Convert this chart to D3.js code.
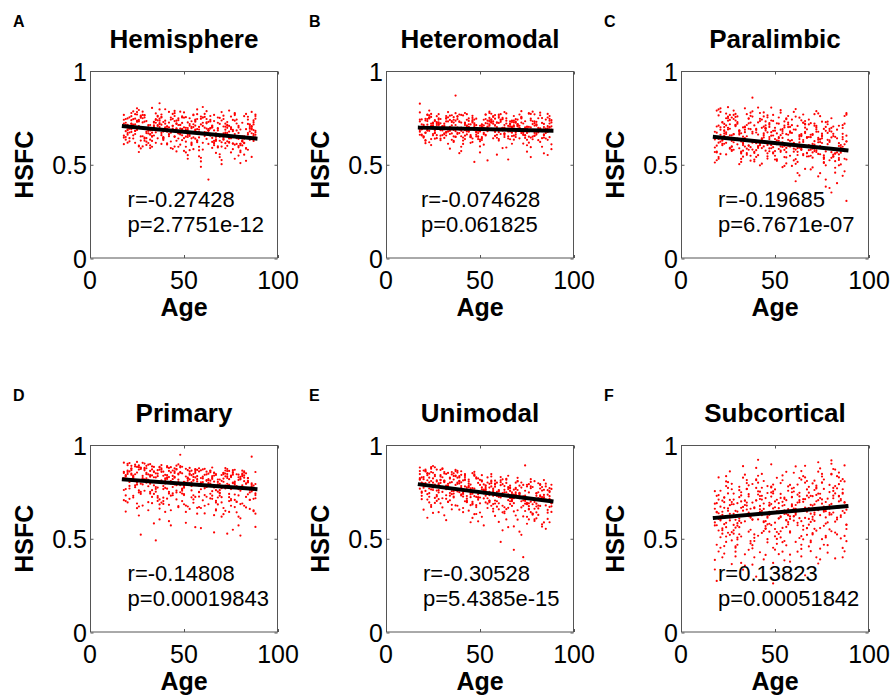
<!DOCTYPE html>
<html><head><meta charset="utf-8">
<script src="https://cdnjs.cloudflare.com/ajax/libs/d3/7.8.5/d3.min.js"></script>
<style>body{margin:0;background:#fff}svg text{font-family:Arial,"Liberation Sans",Helvetica,sans-serif;fill:#000}</style>
</head><body><svg id="chart" width="893" height="699"></svg>
<script>
// ---------- data ----------
const panelLetters = ["A","B","C","D","E","F"];
const panelTitles = ["Hemisphere","Heteromodal","Paralimbic","Primary","Unimodal","Subcortical"];
const rLabels = ["r=-0.27428","r=-0.074628","r=-0.19685","r=-0.14808","r=-0.30528","r=0.13823"];
const pLabels = ["p=2.7751e-12","p=0.061825","p=6.7671e-07","p=0.00019843","p=5.4385e-15","p=0.00051842"];
const xTickValues = [0,50,100];
const xTickLabels = ["0","50","100"];
const yTickValues = [0,0.5,1];
const yTickLabels = ["0","0.5","1"];
const xAxisLabel = "Age";
const yAxisLabel = "HSFC";
// fitted regression line: HSFC at the youngest and oldest age
const fitAges = [18,88];
const fitStart = [0.706,0.698,0.648,0.816,0.790,0.611];
const fitEnd   = [0.640,0.682,0.577,0.765,0.700,0.674];
// annotation anchor (age units)
const annotAge = [20,18.6,19.7,20,19.7,19.7];

// subject ages (shared by all panels)
const ages = [
18,21,25,19,23,27,20,24,22,26,18,22,25,20,27,23,19,24,21,26,20,25,18,23,27,21,24,19,26,22,25,20,23,18,27,24,21,26,19,22,24,18,26,21,23,20,27,25,19,22,26,18,24,21,27,23,20,25,22,19,23,19,26,21,25,18,27,22,24,20,
31,36,29,33,28,35,37,30,34,32,29,36,31,28,33,37,35,30,32,34,36,28,31,35,29,33,37,30,34,32,28,33,36,31,29,35,30,37,32,34,35,29,32,36,28,31,34,30,37,33,30,35,28,32,36,29,34,31,37,33,34,29,37,31,28,35,32,36,30,33,
44,39,46,41,38,43,47,40,45,42,38,45,40,47,42,39,44,41,46,43,41,47,39,44,38,42,46,40,43,45,39,42,46,38,44,41,47,43,40,45,46,40,43,38,47,41,44,39,42,45,38,44,41,46,39,43,47,40,45,42,41,46,38,43,47,40,44,39,45,42,
52,49,56,48,54,51,57,50,53,55,49,53,57,51,48,55,52,56,50,54,55,48,51,57,53,49,54,50,56,52,50,56,49,53,48,54,57,51,55,52,48,52,55,50,57,53,49,56,51,54,53,50,57,48,55,51,54,49,56,52,55,50,57,48,53,51,56,49,54,52,
63,58,66,60,64,59,67,61,65,62,58,62,66,60,67,63,59,64,61,65,60,65,58,63,67,61,64,59,66,62,59,64,67,60,63,58,65,61,66,62,64,58,66,61,63,60,67,65,59,62,66,58,64,61,67,63,60,65,62,59,60,65,58,62,67,59,64,61,66,63,
71,76,69,73,68,75,77,70,74,72,69,76,71,68,73,77,75,70,72,74,76,68,71,75,69,73,77,70,74,72,68,73,76,71,69,75,70,77,72,74,75,69,72,76,68,71,74,70,77,73,70,75,68,72,76,69,74,71,77,73,73,68,76,70,74,69,77,72,75,71,
84,79,86,81,88,83,78,87,80,85,82,88,80,85,79,83,87,81,86,78,84,81,87,79,84,88,82,86,80,83,85,78,82,87,80,88,84,79,86,81,83,87,80,85,78,82,88,84,79,86,81,85,83,88,80,86,79,84,82,87,81,87,79,85,88,82,78,84,80,86
];

// HSFC values, in thousandths
const hemisphereX1000 = [
720,672,768,634,711,751,689,617,759,706,655,738,781,684,587,714,648,746,694,792,669,729,610,701,762,642,715,744,598,690,735,660,785,708,629,681,753,568,712,675,770,645,731,693,743,618,700,801,679,720,602,740,664,698,757,640,713,686,776,724,657,705,739,625,694,766,651,718,680,747,
667,712,765,650,695,739,828,623,725,683,752,641,700,783,596,716,673,733,634,692,761,652,711,617,730,685,795,606,702,664,726,627,757,688,645,774,677,722,589,698,743,639,712,684,766,616,729,669,701,803,642,686,748,603,707,763,656,693,735,671,710,628,746,681,598,724,660,737,692,653,
708,647,735,686,611,752,667,693,787,652,714,597,682,738,699,632,771,676,721,589,690,747,645,707,670,782,571,699,678,760,638,725,691,658,745,614,712,680,796,651,694,735,624,768,669,705,585,728,684,649,756,693,608,718,677,741,640,697,775,660,703,628,752,671,596,719,686,642,733,664,
686,631,735,607,702,650,770,673,578,716,691,748,627,697,665,764,551,709,642,732,676,783,596,690,654,723,618,751,683,532,699,639,758,664,712,611,795,686,583,726,693,648,767,676,620,708,657,741,566,695,672,779,630,713,646,754,605,689,730,659,701,574,744,662,717,623,687,752,641,696,
421,688,628,724,660,757,636,698,590,744,675,786,612,707,651,690,518,731,665,622,752,643,702,681,563,771,655,715,604,693,670,739,627,808,684,577,706,653,766,638,695,545,733,674,611,752,650,699,489,721,683,596,760,661,632,729,617,700,672,745,581,709,646,726,668,537,694,755,620,683,
668,612,718,625,692,641,765,597,707,665,556,739,634,695,601,776,652,503,719,677,614,752,637,698,541,728,664,620,789,687,592,708,647,762,628,690,525,735,672,618,757,649,703,583,683,744,640,781,607,697,660,566,724,615,679,750,644,704,532,670,713,598,686,736,621,657,771,588,699,644,
661,600,706,624,681,589,741,664,567,716,639,768,604,692,670,521,727,651,703,611,756,630,685,549,718,660,617,782,688,586,701,642,759,627,509,673,741,638,694,603,771,655,575,712,683,615,746,648,699,542,724,633,690,760,612,668,707,580,652,715,625,737,593,678,645,554,720,669,612,688
];
const heteromodalX1000 = [
826,672,725,656,753,694,713,637,744,683,731,766,664,706,642,747,690,719,615,738,699,657,779,681,722,628,755,702,668,733,710,649,763,685,727,605,745,695,661,714,771,676,733,631,750,703,658,720,689,768,639,741,697,670,712,789,652,707,686,742,620,716,673,736,694,660,759,682,708,645,
710,651,744,687,726,633,869,699,664,760,684,725,643,741,693,712,764,658,731,681,627,748,702,667,721,781,648,694,739,675,715,612,754,690,655,733,706,775,671,694,728,640,746,686,719,663,762,697,650,731,683,710,770,656,740,690,586,720,679,753,702,631,735,668,712,689,749,622,705,677,
679,728,640,763,698,662,741,573,715,684,756,648,725,690,776,669,702,611,738,687,645,721,768,676,697,655,750,596,709,689,732,637,761,670,716,694,515,740,681,650,726,698,770,664,713,629,747,688,725,647,759,700,673,731,562,707,685,766,658,719,694,621,743,678,705,652,734,690,617,712,
697,649,739,676,720,632,755,692,660,731,683,768,641,713,693,737,607,724,678,703,776,651,715,688,744,669,523,708,692,740,634,728,682,767,661,699,719,642,750,686,711,670,783,625,731,693,652,742,703,679,722,566,759,674,708,648,735,690,772,663,715,598,684,746,656,702,728,637,691,710,
666,712,636,751,689,726,653,740,679,697,765,589,719,674,735,648,701,687,770,640,723,678,746,659,704,692,774,554,720,683,644,735,699,760,667,708,528,729,678,695,748,654,713,685,781,629,728,693,660,750,703,682,592,739,671,712,768,651,696,724,637,707,675,743,612,689,720,664,732,698,
695,650,730,672,710,633,746,689,658,725,681,772,641,703,690,737,604,717,676,699,775,655,708,685,743,664,541,705,689,755,634,720,678,768,660,696,713,645,747,682,704,671,786,618,726,691,656,741,699,677,715,570,760,669,702,648,732,687,771,659,613,735,682,708,643,724,594,751,670,697,
662,709,633,748,684,723,650,735,677,693,764,583,712,669,731,642,698,682,771,636,718,673,745,654,701,688,778,552,716,679,640,732,694,760,661,705,561,722,675,690,749,647,709,681,783,622,726,689,656,752,697,678,596,738,668,706,769,645,692,720,631,702,670,741,609,685,717,658,729,694
];
const paralimbicX1000 = [
592,687,749,566,655,627,795,710,604,692,512,725,646,763,579,668,704,617,801,657,541,735,635,701,598,782,664,570,716,629,757,532,680,650,596,773,700,586,671,728,555,643,766,660,612,709,574,688,789,633,590,676,748,558,657,718,618,807,647,602,684,524,739,623,697,568,752,611,673,638,
682,580,771,613,662,562,725,639,703,531,755,604,669,789,575,690,628,719,515,700,601,766,661,586,711,543,778,635,674,566,744,617,692,503,713,652,758,594,668,801,553,706,624,748,580,683,642,727,522,699,609,770,664,570,721,632,687,588,761,650,597,736,548,679,620,712,560,745,638,605,
658,569,753,596,858,632,714,542,694,612,785,575,672,637,733,518,703,600,764,641,551,722,623,667,581,776,606,691,506,710,630,745,561,676,646,805,587,697,615,731,533,686,638,757,572,661,598,710,497,693,618,779,590,673,563,741,648,578,695,612,726,545,667,589,702,624,758,528,683,604,
647,566,743,588,668,617,701,528,778,600,681,569,725,630,655,494,752,590,697,643,541,736,609,660,576,766,595,682,507,719,621,663,560,791,604,690,633,529,731,584,674,615,709,548,760,598,656,567,721,487,687,637,601,805,579,667,620,734,539,642,699,573,715,610,658,521,747,594,680,628,
637,548,733,570,658,606,689,505,768,589,671,552,715,617,644,443,741,579,687,632,523,724,597,650,561,757,583,670,478,707,609,653,544,782,591,678,622,412,718,569,664,604,698,530,751,586,645,551,711,456,675,627,590,797,563,658,611,725,515,631,688,557,702,598,647,494,737,581,669,619,
626,537,722,558,648,594,681,486,759,577,660,540,708,605,634,421,730,566,676,621,510,715,585,641,548,774,571,659,455,698,597,643,531,770,580,666,611,383,707,556,652,593,688,514,741,573,635,538,702,438,664,616,578,786,550,647,600,719,497,620,676,545,691,586,636,475,727,568,657,607,
615,524,711,545,307,583,670,465,748,564,649,528,697,593,622,402,719,554,665,610,497,704,573,630,536,767,559,648,352,687,585,633,519,760,567,655,600,376,696,543,641,581,677,502,730,561,624,526,691,441,653,605,566,775,537,636,588,708,484,609,665,532,680,574,625,458,716,555,646,596
];
const primaryX1000 = [
851,782,883,731,829,522,694,812,866,758,906,842,663,820,877,720,836,895,803,747,856,910,706,817,872,768,886,831,624,848,799,892,729,823,879,785,859,672,840,889,775,818,869,713,833,900,794,853,645,811,882,760,844,904,739,826,863,789,875,701,837,765,891,812,688,857,750,873,808,846,
843,773,878,723,820,491,683,803,859,750,901,834,652,811,870,710,827,889,794,739,847,905,695,808,865,759,880,822,582,839,790,886,719,814,872,776,851,661,831,883,766,809,862,702,824,895,785,844,603,802,876,751,835,898,728,817,856,780,868,690,828,756,884,803,677,849,741,866,799,838,
835,765,870,714,811,882,674,795,851,741,893,826,643,802,862,701,818,881,786,730,839,897,686,799,857,750,872,813,571,830,781,878,710,805,864,767,843,652,822,875,757,800,854,693,815,887,776,836,594,793,868,742,827,890,719,808,848,771,860,681,819,747,876,795,668,841,732,858,790,829,
826,756,861,948,802,873,665,786,842,732,884,817,634,793,853,692,809,872,777,721,830,888,677,790,848,741,863,804,562,821,772,869,701,796,855,758,834,643,813,866,748,791,845,684,806,878,767,827,585,784,859,733,818,881,710,799,839,762,851,672,810,738,867,786,659,832,723,849,781,820,
818,748,853,705,794,865,657,778,834,724,876,809,626,785,845,684,801,864,769,713,822,880,669,782,840,733,855,796,534,813,764,861,693,788,847,750,826,635,805,858,740,783,837,676,798,870,759,819,557,776,851,725,810,873,702,791,831,754,843,664,802,730,859,778,651,824,715,841,773,812,
664,842,745,833,790,705,868,809,722,848,777,548,821,751,861,797,676,840,784,739,856,803,631,829,743,845,788,694,862,768,816,527,796,852,730,837,780,669,877,818,712,759,864,800,683,844,787,618,805,872,722,834,776,649,866,793,701,850,736,824,793,720,851,770,643,816,707,833,765,804,
801,731,938,688,563,849,641,761,817,707,860,792,609,768,828,667,784,847,752,696,805,863,652,765,823,716,838,779,517,796,747,844,676,771,830,733,809,618,788,841,723,766,820,659,781,853,742,802,571,759,834,708,793,856,685,774,814,737,826,647,785,713,842,761,634,807,698,824,756,795
];
const unimodalX1000 = [
818,755,852,711,801,869,772,680,839,789,880,738,822,655,806,847,751,882,797,718,829,760,861,694,811,780,874,729,834,612,799,864,768,823,702,856,790,881,745,812,670,845,777,862,724,818,757,888,800,709,841,767,808,859,733,826,781,638,850,797,743,827,691,869,772,815,726,848,763,794,
802,741,839,698,786,856,759,667,826,776,867,725,809,642,793,834,738,872,784,705,816,747,848,681,798,767,861,716,821,599,786,851,755,810,689,843,777,868,732,799,657,832,764,849,711,805,744,875,787,696,828,754,795,846,720,813,768,625,837,784,730,814,678,856,759,802,713,835,750,781,
775,827,611,757,800,704,838,781,736,813,862,679,772,727,839,748,816,642,697,763,725,857,795,806,676,829,740,841,774,588,806,700,850,752,782,664,836,695,737,769,689,860,728,793,631,811,761,655,845,743,853,794,739,770,809,698,844,731,789,817,746,683,826,714,767,801,650,834,722,779,
762,708,796,679,741,811,729,640,781,750,822,694,768,617,752,793,715,832,747,687,773,723,806,660,759,737,827,689,779,571,744,810,722,764,669,800,751,839,703,757,632,790,733,814,685,771,718,845,746,664,785,720,760,821,695,774,739,593,804,755,702,787,646,828,730,763,676,798,716,742,
748,688,783,657,728,799,713,483,765,734,810,676,755,590,738,781,700,820,731,665,760,706,794,636,748,720,815,671,769,545,729,798,706,752,645,790,737,829,685,744,603,778,716,802,668,757,700,836,730,641,773,704,748,812,675,761,723,562,791,740,689,775,622,817,716,750,658,786,700,729,
734,674,772,402,441,788,698,602,891,722,799,659,742,566,723,770,684,808,718,648,747,690,783,617,733,705,803,652,756,521,716,787,689,740,624,779,724,818,667,730,580,766,700,791,646,745,687,825,717,619,760,691,735,800,656,748,709,538,780,726,676,762,603,806,702,738,642,773,685,716,
721,660,759,627,704,776,684,588,741,709,787,643,729,553,710,757,670,796,706,634,734,677,770,604,720,692,791,639,743,577,703,776,675,727,609,766,711,807,654,717,565,754,687,779,633,732,673,813,705,606,748,678,722,788,641,735,696,587,768,713,662,749,595,794,689,725,628,761,672,701
];
const subcorticalX1000 = [
660,508,742,572,421,684,606,834,527,707,336,627,771,544,696,461,641,806,598,521,733,662,387,578,764,620,483,690,859,555,649,432,719,587,793,512,671,613,275,703,562,754,633,452,665,827,535,616,729,401,679,571,781,604,491,695,636,802,546,643,721,468,598,756,532,687,365,644,585,709,
595,726,452,670,545,813,618,506,703,371,649,785,562,633,887,475,677,583,748,417,620,709,524,766,601,335,660,570,842,512,684,622,441,722,559,797,645,488,699,593,765,406,665,538,741,608,357,690,629,826,496,656,574,731,639,459,680,777,548,624,704,431,612,759,527,693,585,738,468,650,
688,523,781,603,449,729,627,878,553,675,362,634,812,580,712,488,659,921,612,531,753,678,401,593,792,643,498,704,846,568,667,428,744,604,808,516,692,626,298,717,577,771,649,466,678,836,541,630,751,414,693,588,799,619,505,709,644,817,555,657,736,481,601,772,538,705,390,663,594,728,
609,742,465,685,558,825,627,513,718,385,662,797,577,646,897,488,690,600,763,431,632,725,536,779,615,262,676,586,857,526,699,634,452,739,573,812,658,499,713,608,778,418,680,552,756,620,371,706,641,838,507,668,589,747,651,473,697,789,563,637,720,442,625,774,540,708,598,753,482,663,
706,539,799,621,468,748,644,886,569,693,378,652,827,597,730,504,676,861,628,548,772,697,415,610,808,660,514,721,889,585,684,446,763,619,824,533,711,642,305,735,594,787,666,483,695,852,557,648,768,431,711,606,815,636,521,726,661,834,572,673,752,497,619,789,556,723,406,680,611,745,
629,766,482,706,575,846,647,530,740,401,681,816,595,664,908,507,710,617,783,447,651,746,553,800,634,368,696,603,875,543,720,652,468,760,590,832,677,515,734,626,799,434,700,569,777,639,390,727,660,858,523,687,606,768,671,490,717,810,581,656,741,459,644,795,557,729,614,774,498,683,
726,550,818,640,487,769,663,891,918,712,395,671,846,616,749,523,695,872,648,587,791,716,433,628,827,679,533,740,900,603,704,466,781,638,843,552,729,661,401,755,613,806,686,502,714,869,576,667,787,451,730,625,834,655,540,745,680,853,591,692,771,515,638,808,574,742,426,699,630,764
];
const panelSeries = [hemisphereX1000, heteromodalX1000, paralimbicX1000, primaryX1000, unimodalX1000, subcorticalX1000];

// ---------- layout ----------
const colX = [90, 386, 681];
const rowY = [71, 445];
const boxW = 188, boxH = 187.5;

const svg = d3.select("#chart");
svg.append("rect").attr("width",893).attr("height",699).attr("fill","#fff");

panelTitles.forEach((title, i) => {
  const x0 = colX[i % 3], y0 = rowY[Math.floor(i / 3)];
  const x = d3.scaleLinear().domain([0,100]).range([x0, x0 + boxW]);
  const y = d3.scaleLinear().domain([0,1]).range([y0 + boxH, y0]);
  const g = svg.append("g");

  g.append("text").attr("x", x0 - 77).attr("y", y0 - 44.5)
    .attr("font-size", 16).attr("font-weight", "bold").text(panelLetters[i]);
  g.append("text").attr("x", x0 + boxW/2).attr("y", y0 - 23)
    .attr("text-anchor","middle").attr("font-size", 26).attr("font-weight","bold").text(title);

  g.append("rect").attr("x", x0 + 0.5).attr("y", y0 + 0.5).attr("width", boxW - 1).attr("height", boxH - 1)
    .attr("fill","none").attr("stroke","#555").attr("stroke-width",1);

  const axB = d3.axisBottom(x).tickValues(xTickValues).tickSize(-3).tickFormat(() => "");
  const axT = d3.axisTop(x).tickValues(xTickValues).tickSize(-3).tickFormat(() => "");
  const axL = d3.axisLeft(y).tickValues(yTickValues).tickSize(-3).tickFormat(() => "");
  const axR = d3.axisRight(y).tickValues(yTickValues).tickSize(-3).tickFormat(() => "");
  [[axB, `translate(0,${y0 + boxH - 0.5})`],[axT, `translate(0,${y0 + 0.5})`],
   [axL, `translate(${x0 + 0.5},0)`],[axR, `translate(${x0 + boxW - 0.5},0)`]].forEach(([ax, tr]) => {
    const a = g.append("g").attr("transform", tr).call(ax);
    a.select(".domain").remove();
    a.selectAll("line").attr("stroke","#555");
  });

  g.selectAll(null).data(xTickValues).enter().append("text")
    .attr("x", d => x(d)).attr("y", y0 + boxH + 30)
    .attr("text-anchor","middle").attr("font-size",25).text((d,k) => xTickLabels[k]);
  g.selectAll(null).data(yTickValues).enter().append("text")
    .attr("x", x0 - 3).attr("y", d => y(d) + 9.5)
    .attr("text-anchor","end").attr("font-size",25).text((d,k) => yTickLabels[k]);

  g.append("text").attr("x", x0 + boxW/2).attr("y", y0 + boxH + 57)
    .attr("text-anchor","middle").attr("font-size",25).attr("font-weight","bold").text(xAxisLabel);
  g.append("text").attr("transform", `translate(${x0 - 57},${y0 + boxH/2}) rotate(-90)`)
    .attr("text-anchor","middle").attr("font-size",25).attr("font-weight","bold").text(yAxisLabel);

  const vals = panelSeries[i];
  const n = Math.min(vals.length, ages.length);
  const pts = d3.range(n).map(k => [ages[k], vals[k] / 1000]);
  g.append("g").selectAll("circle").data(pts).enter().append("circle")
    .attr("cx", d => x(d[0])).attr("cy", d => y(d[1]))
    .attr("r", 1.1).attr("fill", "#f00");

  const line = d3.line().x(d => x(d[0])).y(d => y(d[1]));
  g.append("path").datum([[fitAges[0], fitStart[i]], [fitAges[1], fitEnd[i]]])
    .attr("d", line).attr("stroke","#000").attr("stroke-width",4).attr("fill","none")
    .attr("stroke-linecap","square");

  const ax0 = x(annotAge[i]);
  const ty = y(0.277);
  g.append("text").attr("x", ax0).attr("y", ty).attr("font-size",22).text(rLabels[i]);
  g.append("text").attr("x", ax0).attr("y", ty + 25).attr("font-size",22).text(pLabels[i]);
});
</script></body></html>
